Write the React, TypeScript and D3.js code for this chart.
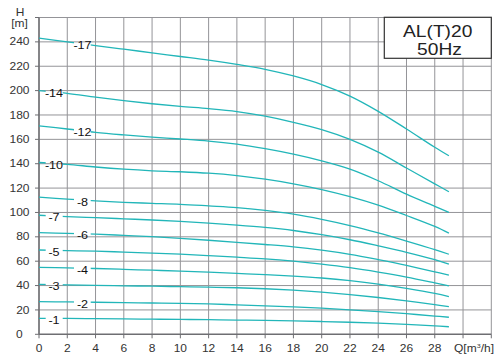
import React from "react";
import * as d3 from "d3";

const qPoints = [0, 2, 4, 6, 8, 10, 12, 14, 16, 18, 20, 22, 24, 26, 28, 29];
const stageLabels = ["-17", "-14", "-12", "-10", "-8", "-7", "-6", "-5", "-4", "-3", "-2", "-1"];
const h17 = [243, 240, 237, 234, 231, 228, 225, 221.5, 217.5, 212, 205, 195.5, 183, 168.5, 153.5, 146.5];
const h14 = [200, 197.8, 194.7, 191.8, 189.2, 187, 185.2, 182.8, 179, 174, 168, 160, 149.5, 136.5, 123.5, 117];
const h12 = [171, 168.5, 165.7, 163.6, 161.8, 160.3, 158.6, 156, 152.3, 147.8, 142.3, 135.5, 126, 115, 105, 100];
const h10 = [141, 139.5, 137.3, 135.5, 134.2, 133.4, 132.2, 130.2, 127.3, 123.5, 118.8, 113, 106, 97.5, 88.5, 83];
const h8 = [112.5, 111, 109.5, 108.3, 107.5, 106.7, 105.4, 104, 101.7, 98.6, 94.3, 89.2, 83.2, 76.5, 69.5, 65.7];
const h7 = [97.7, 96.6, 95.7, 94.8, 93.8, 92.6, 91.2, 89.6, 87.7, 85.2, 81.8, 77.6, 72.6, 67.3, 61.2, 57.5];
const h6 = [83.4, 82.8, 82.2, 81.2, 80.1, 78.8, 77.2, 75.5, 73.7, 71.7, 69, 65.6, 61.3, 56.6, 51.3, 48.5];
const h5 = [69.2, 68.7, 68.2, 67.5, 66.7, 65.8, 64.6, 63.3, 61.9, 60, 57.6, 54.7, 51.1, 47, 42.2, 39.7];
const h4 = [55, 54.5, 54, 53.3, 52.6, 51.9, 51, 50, 49, 47.8, 46.2, 44, 41.2, 37.7, 33.6, 31];
const h3 = [41, 40.6, 40.2, 39.8, 39.5, 39.1, 38.7, 38.2, 37.4, 36.2, 34.6, 32.6, 30.2, 27.4, 24.3, 22.7];
const h2 = [26.8, 26.6, 26.3, 26, 25.7, 25.4, 24.9, 24.2, 23.4, 22.5, 21.4, 20.1, 18.6, 16.9, 15, 14];
const h1 = [13.1, 13, 12.8, 12.6, 12.4, 12.2, 12, 11.7, 11.4, 11, 10.5, 9.9, 9.1, 8.1, 6.9, 6.2];
const curves = [h17, h14, h12, h10, h8, h7, h6, h5, h4, h3, h2, h1];

const xTickValues = [0, 2, 4, 6, 8, 10, 12, 14, 16, 18, 20, 22, 24, 26, 28];
const yTickValues = [0, 20, 40, 60, 80, 100, 120, 140, 160, 180, 200, 220, 240];
const titleLines = ["AL(T)20", "50Hz"];

const W = 500;
const H = 359;
const left = 39;
const right = 491.3;
const top = 17.5;
const bottom = 334.3;
const FONT = "'Liberation Sans', Arial, sans-serif";
const CURVE = "#22b6b9";

export default function App() {
  const x = d3.scaleLinear().domain([0, 32]).range([left, right]);
  const y = d3.scaleLinear().domain([0, 260]).range([bottom, top]);
  const line = d3
    .line<number>()
    .x((_, i) => x(qPoints[i]))
    .y((d) => y(d))
    .curve(d3.curveCatmullRom.alpha(0.5));

  const vGrid = d3.range(0, 33, 2);
  const hGrid = d3.range(20, 261, 20);

  const labelQ = [3.05, 0.95];
  const gaps = [
    [74, 90.7],
    [45.7, 62.7],
  ];

  const interp = (arr: number[], q: number) => {
    const f = d3.scaleLinear().domain(qPoints).range(arr);
    return f(q);
  };

  return (
    <svg width={W} height={H} style={{ display: "block", position: "absolute", left: 0, top: 0 }}>
      <rect x={0} y={0} width={W} height={H} fill="#fff" />
      <defs>
        {curves.map((c, i) => {
          const side = i % 2;
          const g = gaps[side];
          const cy = y(interp(c, labelQ[side]));
          return (
            <mask id={`m${i}`} key={i} maskUnits="userSpaceOnUse" x={0} y={0} width={W} height={H}>
              <rect x={0} y={0} width={W} height={H} fill="#fff" />
              <rect x={g[0]} y={cy - 5} width={g[1] - g[0]} height={10} fill="#000" />
            </mask>
          );
        })}
      </defs>
      {/* grid */}
      {vGrid.map((v) => (
        <line key={`v${v}`} x1={x(v)} x2={x(v)} y1={top} y2={bottom} stroke="#949498" strokeWidth={1} />
      ))}
      {hGrid.map((v) => (
        <line key={`h${v}`} x1={left} x2={right} y1={y(v)} y2={y(v)} stroke="#949498" strokeWidth={1} />
      ))}
      {/* axes */}
      <line x1={left} x2={left} y1={top} y2={bottom} stroke="#6e6e72" strokeWidth={1.5} />
      <line x1={left} x2={right} y1={bottom} y2={bottom} stroke="#6e6e72" strokeWidth={1.6} />
      {vGrid.map((v) => (
        <line key={`xt${v}`} x1={x(v)} x2={x(v)} y1={bottom} y2={bottom + 4} stroke="#6e6e72" strokeWidth={1} />
      ))}
      {[0, ...hGrid].map((v) => (
        <line key={`yt${v}`} x1={left - 4} x2={left} y1={y(v)} y2={y(v)} stroke="#6e6e72" strokeWidth={1} />
      ))}
      {/* tick labels */}
      {xTickValues.map((v) => (
        <text
          key={`xl${v}`}
          transform={`translate(${x(v)},352) scale(1.2,1)`}
          textAnchor="middle"
          fontFamily={FONT}
          fontSize={10}
          fill="#333"
        >
          {v}
        </text>
      ))}
      {yTickValues.map((v) => (
        <text
          key={`yl${v}`}
          transform={`translate(${v === 0 ? 16 : 29.5},${y(v) + 3.6}) scale(1.2,1)`}
          textAnchor={v === 0 ? "start" : "end"}
          fontFamily={FONT}
          fontSize={10}
          fill="#333"
        >
          {v}
        </text>
      ))}
      <text transform={`translate(20,16) scale(1.2,1)`} textAnchor="middle" fontFamily={FONT} fontSize={10} fill="#333">
        H
      </text>
      <text transform={`translate(19.5,26.5) scale(1.2,1)`} textAnchor="middle" fontFamily={FONT} fontSize={10} fill="#333">
        [m]
      </text>
      <text transform={`translate(454,352) scale(1.2,1)`} textAnchor="start" fontFamily={FONT} fontSize={10} fill="#333">
        Q[m<tspan dy={-4} fontSize={6}>3</tspan>
        <tspan dy={4}>/h]</tspan>
      </text>
      {/* curves */}
      {curves.map((c, i) => (
        <path key={`c${i}`} d={line(c) || ""} fill="none" stroke={CURVE} strokeWidth={1.3} mask={`url(#m${i})`} />
      ))}
      {curves.map((c, i) => {
        const side = i % 2;
        const cx = side === 0 ? 82.5 : 54;
        const cy = y(interp(c, labelQ[side]));
        return (
          <text
            key={`l${i}`}
            transform={`translate(${cx},${cy + 5.5}) scale(1.2,1)`}
            textAnchor="middle"
            fontFamily={FONT}
            fontSize={10.5}
            fill="#111"
          >
            {stageLabels[i]}
          </text>
        );
      })}
      {/* title box */}
      <rect x={384.3} y={17.3} width={107} height={41} fill="#fff" stroke="#333" strokeWidth={1.2} />
      <text transform={`translate(437.7,36.7) scale(1.2,1)`} textAnchor="middle" fontFamily={FONT} fontSize={16} fill="#222">
        {titleLines[0]}
      </text>
      <text transform={`translate(439.5,55) scale(1.2,1)`} textAnchor="middle" fontFamily={FONT} fontSize={16} fill="#222">
        {titleLines[1]}
      </text>
    </svg>
  );
}
